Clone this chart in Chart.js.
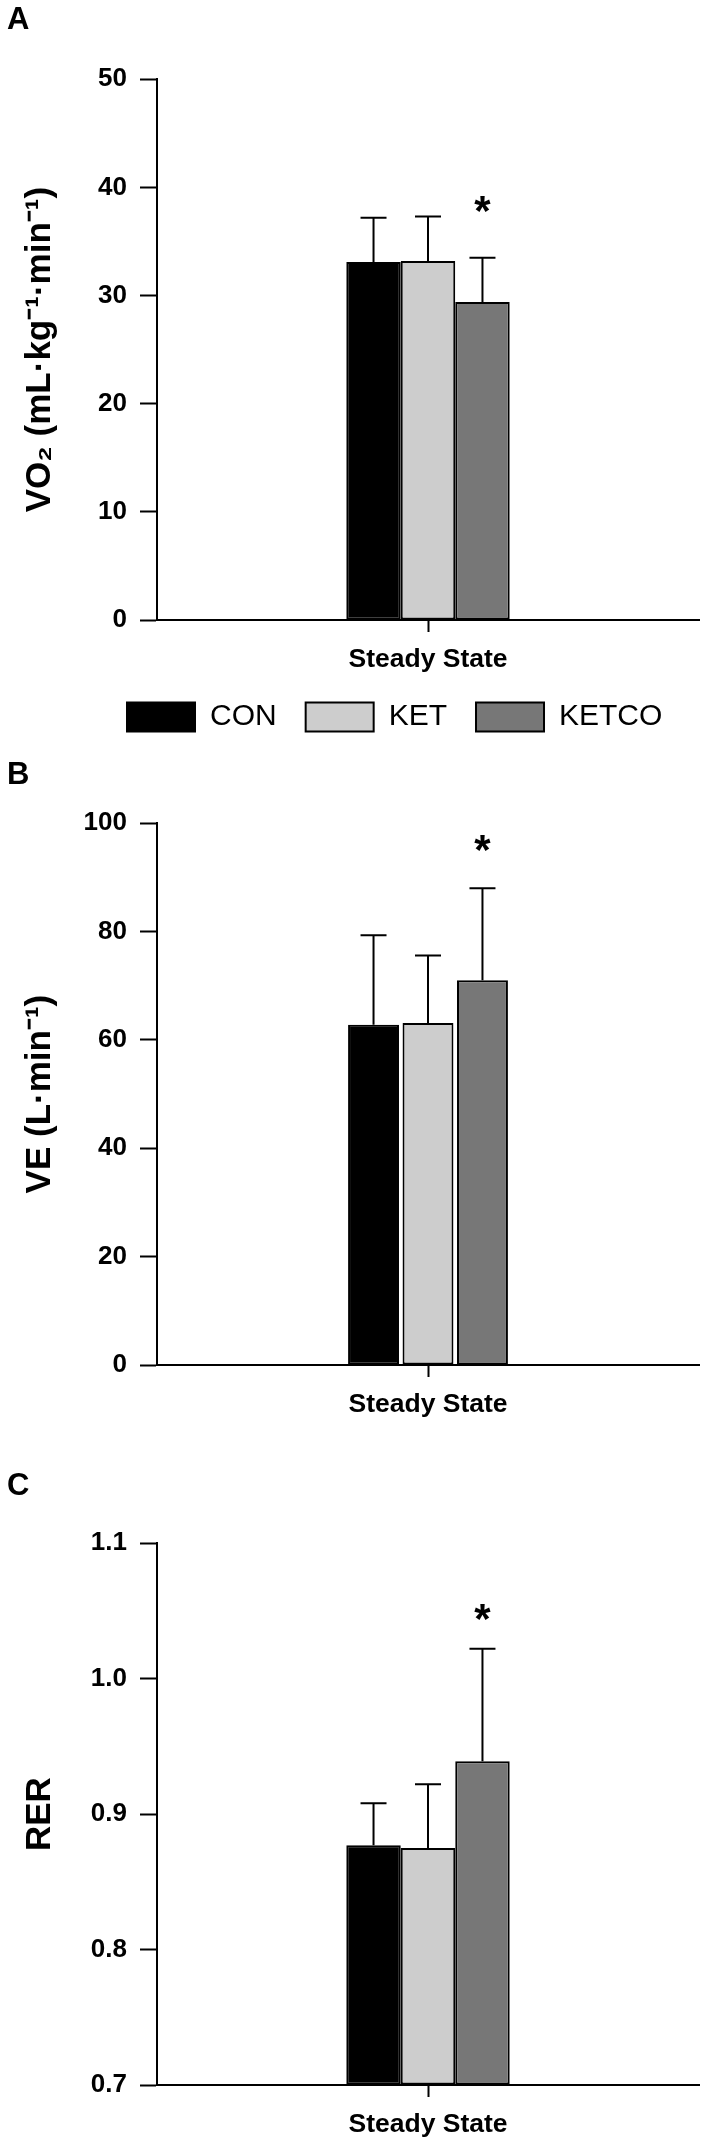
<!DOCTYPE html>
<html>
<head>
<meta charset="utf-8">
<script src="https://cdn.jsdelivr.net/npm/chart.js@4.4.1/dist/chart.umd.min.js"></script>
<style>
  html, body { margin: 0; padding: 0; background: #fff; overflow: hidden; }
  canvas { position: absolute; left: 0; }
</style>
</head>
<body>
<canvas id="chartA" width="709" height="690" style="top:0px"></canvas>
<canvas id="chartB" width="709" height="695" style="top:740px"></canvas>
<canvas id="chartC" width="709" height="696" style="top:1450px"></canvas>
<canvas id="legend" width="600" height="100" style="top:673px;left:98px"></canvas>
<script>
// groups and categories
const groups = ["CON", "KET", "KETCO"];
const category = ["Steady State"];
const colors = ["#000000", "#cdcdcd", "#777777"];

// panel A: VO2
const vo2Mean = [33.1, 33.2, 29.4];
const vo2Sd = [4.1, 4.1, 4.1];
const vo2Star = [null, null, 38.5];
const vo2Ticks = [0, 10, 20, 30, 40, 50];

// panel B: VE
const veMean = [62.8, 63.1, 71.0];
const veSd = [16.5, 12.5, 17.0];
const veStar = [null, null, 96.5];
const veTicks = [0, 20, 40, 60, 80, 100];

// panel C: RER
const rerMean = [0.877, 0.875, 0.939];
const rerSd = [0.031, 0.047, 0.083];
const rerStar = [null, null, 1.05];
const rerTicks = [0.7, 0.8, 0.9, 1.0, 1.1];

const FONT = "'Liberation Sans', Arial, Helvetica, sans-serif";

// error bars + asterisk, drawn through the y scale
const errorBars = {
  id: "errorBars",
  afterDatasetsDraw(chart, args, opts) {
    const ctx = chart.ctx;
    const y = chart.scales.y;
    ctx.save();
    ctx.strokeStyle = "#000";
    ctx.lineWidth = 2;
    chart.data.datasets.forEach((ds, i) => {
      const bar = chart.getDatasetMeta(i).data[0];
      const top = y.getPixelForValue(ds.data[0] + opts.sd[i]);
      ctx.beginPath();
      ctx.moveTo(bar.x, bar.y);
      ctx.lineTo(bar.x, top);
      ctx.moveTo(bar.x - 13, top);
      ctx.lineTo(bar.x + 13, top);
      ctx.stroke();
      if (opts.star[i] != null) {
        ctx.fillStyle = "#000";
        ctx.font = "bold 42px " + FONT;
        ctx.textAlign = "center";
        ctx.textBaseline = "middle";
        ctx.fillText("*", bar.x, y.getPixelForValue(opts.star[i]) + 10);
      }
    });
    ctx.restore();
  }
};

function makePanel(id, letter, means, sds, stars, ticks, yTitle, digits, barPct, pad, xHeight) {
  return new Chart(document.getElementById(id), {
    type: "bar",
    data: {
      labels: category,
      datasets: groups.map((g, i) => ({
        label: g,
        data: [means[i]],
        base: ticks[0],
        backgroundColor: colors[i],
        borderColor: "#000",
        borderWidth: 2,
        borderSkipped: false,
        barPercentage: barPct,
        categoryPercentage: 0.3015
      }))
    },
    options: {
      responsive: false,
      animation: false,
      events: [],
      layout: { padding: { left: 7, right: 10, top: 0, bottom: 0 } },
      plugins: {
        legend: { display: false },
        tooltip: { enabled: false },
        title: {
          display: true,
          text: letter,
          align: "start",
          color: "#000",
          font: { family: FONT, size: 31, weight: "bold" },
          padding: pad
        },
        errorBars: { sd: sds, star: stars }
      },
      scales: {
        x: {
          grid: { offset: false, drawOnChartArea: false, tickLength: 12, tickColor: "#000", tickWidth: 2 },
          border: { color: "#000", width: 2 },
          ticks: { color: "#000", padding: 12, font: { family: FONT, size: 26.5, weight: "bold" } },
          afterFit: s => { s.height = xHeight; }
        },
        y: {
          min: ticks[0],
          max: ticks[ticks.length - 1],
          afterBuildTicks: s => { s.ticks = ticks.map(v => ({ value: v })); },
          grid: { drawOnChartArea: false, tickLength: 17, tickColor: "#000", tickWidth: 2 },
          border: { color: "#000", width: 2 },
          ticks: {
            color: "#000",
            padding: 13,
            font: { family: FONT, size: 26, weight: "bold" },
            callback: v => v.toFixed(digits)
          },
          title: {
            display: true,
            text: yTitle,
            color: "#000",
            font: { family: FONT, size: 35, weight: "bold" },
            padding: { top: 12, bottom: 0 }
          },
          afterFit: s => { s.width = 150; }
        }
      }
    },
    plugins: [errorBars]
  });
}

makePanel("chartA", "A", vo2Mean, vo2Sd, vo2Star, vo2Ticks, "VO\u2082 (mL\u00b7kg\u207b\u00b9\u00b7min\u207b\u00b9)", 0, 1, { top: 2, bottom: 40 }, 70);
makePanel("chartB", "B", veMean, veSd, veStar, veTicks, "VE (L\u00b7min\u207b\u00b9)", 0, 0.935, { top: 17, bottom: 29 }, 70);
makePanel("chartC", "C", rerMean, rerSd, rerStar, rerTicks, "RER", 1, 1, { top: 18, bottom: 38 }, 61);

// shared legend
new Chart(document.getElementById("legend"), {
  type: "bar",
  data: {
    labels: [],
    datasets: groups.map((g, i) => ({
      label: g,
      data: [],
      backgroundColor: colors[i],
      borderColor: "#000",
      borderWidth: 2
    }))
  },
  options: {
    responsive: false,
    animation: false,
    events: [],
    scales: { x: { display: false }, y: { display: false } },
    plugins: {
      tooltip: { enabled: false },
      legend: {
        position: "top",
        align: "start",
        maxHeight: 100,
        labels: { boxWidth: 68, boxHeight: 29, padding: 29, color: "#000", font: { family: FONT, size: 30 } }
      }
    }
  }
});
</script>
</body>
</html>
